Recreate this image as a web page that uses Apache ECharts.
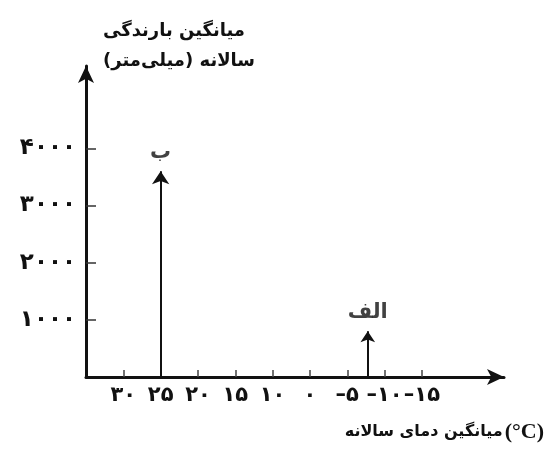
<!DOCTYPE html>
<html>
<head>
<meta charset="utf-8">
<script src="https://cdn.jsdelivr.net/npm/echarts@6/dist/echarts.min.js"></script>
<style>
  html, body { margin: 0; padding: 0; background: #fff; }
  #chart { width: 547px; height: 459px; }
</style>
</head>
<body>
<div id="chart"></div>
<script>
  // printed temperature labels, left to right (scale is drawn by label position)
  const xLabels = ['۳۰', '۲۵', '۲۰', '۱۵', '۱۰', '۰', '–۵', '–۱۰', '–۱۵']
  const xTicks = [0, 1, 2, 3, 4, 5, 6, 7, 8]
  const yTicks = [1000, 2000, 3000, 4000]
  const yLabels = ['۱۰۰۰', '۲۰۰۰', '۳۰۰۰', '۴۰۰۰']

  // the two places
  const placeNames = ['ب', 'الف']
  const placePos = [1, 6.55]     // position along the printed temperature labels
  const placeRain = [3600, 800]  // mm per year

  const font = 'DejaVu Sans'
  const ink = '#111'

  const chart = echarts.init(document.getElementById('chart'))

  chart.setOption({
    animation: false,
    grid: { left: 86, right: 38, top: 66, bottom: 82 },
    xAxis: {
      type: 'value',
      min: -1,
      max: 10.2,
      splitLine: { show: false },
      axisLine: {
        onZero: false,
        symbol: ['none', 'arrow'],
        symbolSize: [12, 17],
        lineStyle: { color: ink, width: 3 }
      },
      axisTick: {
        customValues: xTicks,
        inside: true,
        length: 7,
        lineStyle: { color: '#444', width: 1.5 }
      },
      axisLabel: {
        customValues: xTicks,
        margin: 8,
        fontFamily: font,
        fontWeight: 'bold',
        fontSize: 21,
        color: ink,
        formatter: function (v) { return '\u200E' + xLabels[Math.round(v)] }
      },
      name: '{a|میانگین دمای سالانه}{b|\u200E(°C)}',
      nameLocation: 'end',
      nameGap: 40,
      nameTextStyle: {
        align: 'right',
        verticalAlign: 'top',
        padding: [44, 0, 0, 0],
        rich: {
          a: { fontFamily: font, fontWeight: 'bold', fontSize: 16, color: ink },
          b: { fontFamily: 'Liberation Serif', fontWeight: 'bold', fontSize: 22, color: ink, padding: [0, 0, 0, 2] }
        }
      }
    },
    yAxis: {
      type: 'value',
      min: 0,
      max: 5440,
      splitLine: { show: false },
      axisLine: {
        onZero: false,
        symbol: ['none', 'arrow'],
        symbolSize: [12, 17],
        lineStyle: { color: ink, width: 3 }
      },
      axisTick: {
        customValues: yTicks,
        inside: true,
        length: 10,
        lineStyle: { color: '#333', width: 1.5 }
      },
      axisLabel: {
        customValues: yTicks,
        margin: 10,
        fontFamily: font,
        fontWeight: 'bold',
        fontSize: 23,
        color: ink,
        formatter: function (v) { return yLabels[yTicks.indexOf(v)] }
      },
      name: 'میانگین بارندگی\nسالانه (میلی‌متر)',
      nameLocation: 'end',
      nameGap: -10,
      nameTextStyle: {
        fontFamily: font,
        fontWeight: 'bold',
        fontSize: 18,
        lineHeight: 30,
        color: ink,
        align: 'left',
        verticalAlign: 'bottom',
        padding: [0, 0, 0, 17]
      }
    },
    series: [{
      type: 'scatter',
      symbolSize: 0,
      silent: true,
      data: placeNames.map(function (n, i) {
        return { name: n, value: [placePos[i], placeRain[i]] }
      }),
      label: {
        show: true,
        position: 'top',
        distance: 8,
        formatter: '{b}',
        fontFamily: font,
        fontWeight: 'bold',
        fontSize: 21,
        color: ink
      },
      markLine: {
        silent: true,
        symbol: ['none', 'arrow'],
        symbolSize: [0, 13],
        label: { show: false },
        lineStyle: { color: ink, width: 2, type: 'solid' },
        data: placeNames.map(function (n, i) {
          return [
            { coord: [placePos[i], 0] },
            { coord: [placePos[i], placeRain[i]], symbolSize: i === 0 ? 13 : 11 }
          ]
        })
      }
    }]
  })
</script>
</body>
</html>
